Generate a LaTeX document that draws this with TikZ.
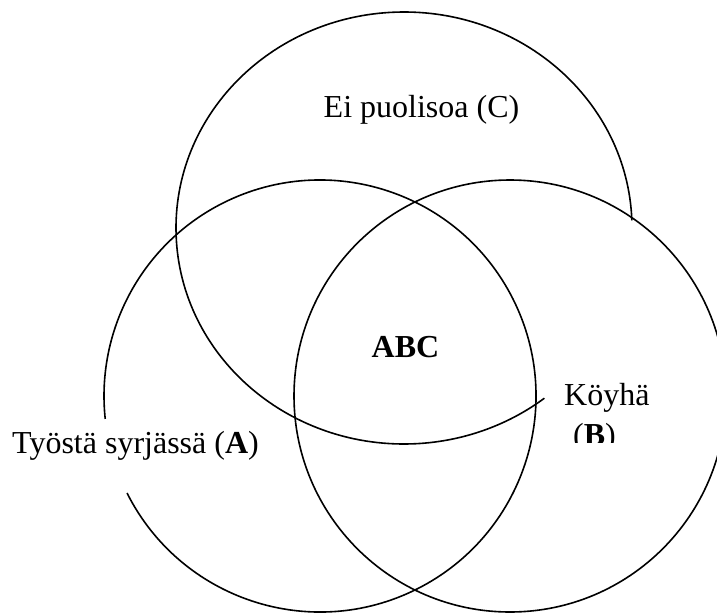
\documentclass[tikz,border=0pt]{standalone}
\usepackage{fontspec}
\setmainfont{Liberation Serif}
\begin{document}
\begin{tikzpicture}[x=1pt,y=1pt,
  ring/.style={line width=1.6pt, black},
  lbl/.style={inner sep=0pt, font=\fontsize{32}{38}\selectfont}]
\clip (0,0) rectangle (717,-613);
% circle C (ellipse, open on the right)
\draw[ring] (404,-228) ++(2:228pt and 216pt)
  arc[start angle=2, end angle=308, x radius=228pt, y radius=216pt];
% circle A (gap on the left for the label)
\draw[ring] (320,-396) ++(206.7:216pt)
  arc[start angle=206.7, end angle=546.1, radius=216pt];
% circle B
\draw[ring] (510,-396) circle[radius=216pt];
% labels
\node[lbl, anchor=base] (lc) at (421.5,-117) {Ei puolisoa (C)};
\node[lbl, anchor=base] (labc) at (405.5,-357) {\textbf{ABC}};
\node[lbl, anchor=base west] (lb1) at (564,-405) {Köyhä};
\begin{scope}
\clip (560,-380) rectangle (660,-442);
\node[lbl, anchor=base west] (lb2) at (573,-445) {(\textbf{B})};
\end{scope}
\node[lbl, anchor=base west] (la) at (12,-453) {Työstä syrjässä (\textbf{A})};
\end{tikzpicture}
\end{document}
